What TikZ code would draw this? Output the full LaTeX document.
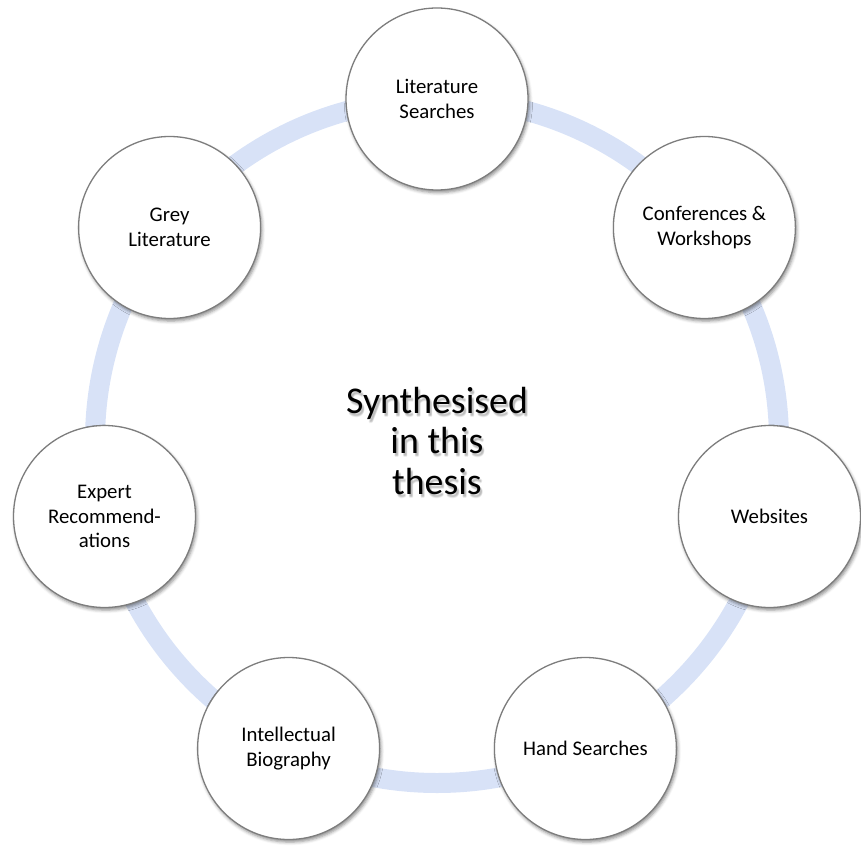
\documentclass[tikz,border=0pt]{standalone}
\usepackage{fontspec}
\setmainfont{Carlito}
\usetikzlibrary{shadows.blur}
\definecolor{ringblue}{RGB}{216,226,247}
\definecolor{rimgray}{RGB}{125,125,125}
\begin{document}
\begin{tikzpicture}[x=0.5pt,y=-0.5pt,
  source/.style={circle, draw=rimgray, line width=0.65pt, fill=white,
    minimum size=91pt, inner sep=0pt, align=center,
    font=\fontsize{10.4}{12.2}\selectfont,
    blur shadow={shadow xshift=0.7pt, shadow yshift=-1.3pt,
      shadow blur radius=1.6pt, shadow opacity=45}},
  ring/.style={draw=ringblue, line width=10pt},
  hubtext/.style={align=center, inner sep=0pt,
    font=\fontsize{18.9}{20.2}\selectfont}]
\useasboundingbox (0,0) rectangle (861,845);

% the band that links all sources
\coordinate (hub) at (437,441);
\draw[ring] (hub) circle[radius=171pt];

% soft shadow under the central caption
\foreach \dx/\dy [count=\i] in {1.5/3, 2.5/3, 2/4, 2/2}
  \node[hubtext, text=black, opacity=0.07] (hubshade\i) at ([shift={(\dx,\dy)}]hub)
    {Synthesised\\in this\\thesis};
\node[hubtext] (hubtxt) at (hub) {Synthesised\\in this\\thesis};

% the seven sources
\node[source] (lit)    at (437,99)      {Literature\\Searches};
\node[source] (conf)   at (704.4,227.5) {Conferences \&\\Workshops};
\node[source] (web)    at (769.5,516.5) {Websites};
\node[source] (hand)   at (585.4,748.5) {Hand Searches};
\node[source] (intel)  at (288.6,748.5) {Intellectual\\Biography};
\node[source] (expert) at (104.5,516.5) {Expert\\Recommend-\\ations};
\node[source] (grey)   at (169.6,227.5) {Grey\\Literature};
\end{tikzpicture}
\end{document}
